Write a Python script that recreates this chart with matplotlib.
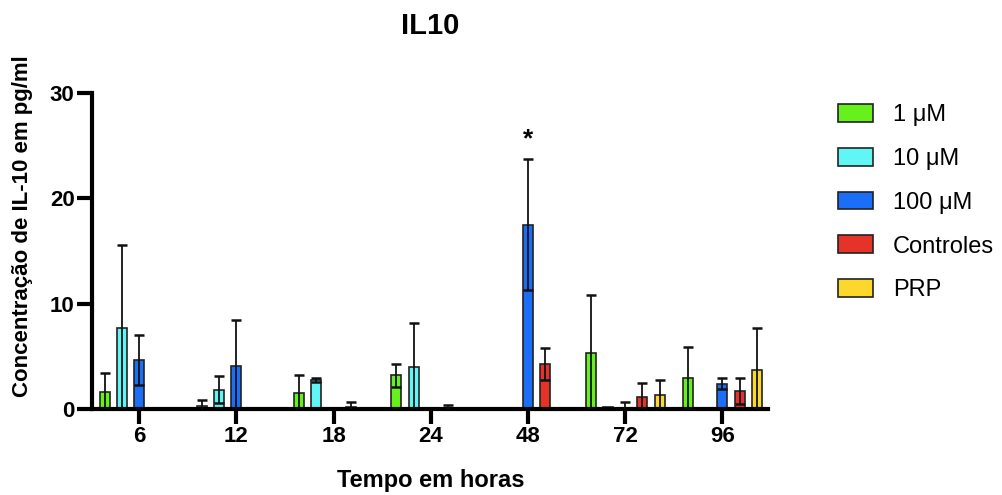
import numpy as np
import matplotlib
matplotlib.use('Agg')
import matplotlib.pyplot as plt

plt.rcParams['font.family'] = ['Liberation Sans', 'DejaVu Sans']

# tempo em horas
groups = ['6', '12', '18', '24', '48', '72', '96']
series = ['1 μM', '10 μM', '100 μM', 'Controles', 'PRP']
colors = ['#66f01c', '#60f6f6', '#1b6ef6', '#e6332a', '#fcd72c']

nan = np.nan
um1 = [1.6, 0.3, 1.55, 3.2, nan, 5.3, 2.9]
um1_err = [1.8, 0.55, 1.7, 1.1, nan, 5.5, 3.0]
um10 = [7.7, 1.85, 2.75, 4.0, nan, 0.15, nan]
um10_err = [7.9, 1.25, 0.2, 4.2, nan, nan, nan]
um100 = [4.65, 4.1, nan, nan, 17.5, 0.1, 2.4]
um100_err = [2.35, 4.35, nan, nan, 6.2, 0.6, 0.5]
ctrl = [nan, nan, 0.2, 0.05, 4.25, 1.15, 1.7]
ctrl_err = [nan, nan, 0.5, 0.33, 1.5, 1.35, 1.25]
prp = [nan, nan, nan, nan, nan, 1.3, 3.75]
prp_err = [nan, nan, nan, nan, nan, 1.5, 3.9]

values = [um1, um10, um100, ctrl, prp]
errors = [um1_err, um10_err, um100_err, ctrl_err, prp_err]

fig = plt.figure(figsize=(10.03, 4.95), dpi=100)
ax = fig.add_axes([92/1003, 86/495, 676/1003, 316/495])

x = np.arange(len(groups))
step = 0.178
width = 0.103
for i in range(len(series)):
    xs = x + (i - 2) * step
    ax.bar(xs, values[i], width=width, color=colors[i], edgecolor='#222222',
           linewidth=1.2, label=series[i], zorder=2)
    ax.errorbar(xs, values[i], yerr=errors[i], fmt='none', ecolor='#111111',
                elinewidth=1.3, capsize=3.5, capthick=1.8, zorder=3)

# significancia
ax.text(4, 24.9, '*', ha='center', va='baseline', fontsize=19, fontweight='bold')

ax.set_xlim(-0.487, 6.47)
ax.set_ylim(0, 30)
ax.set_yticks([0, 10, 20, 30])
ax.set_xticks(x)
ax.set_xticklabels(groups)
for s in ['top', 'right']:
    ax.spines[s].set_visible(False)
for s in ['left', 'bottom']:
    ax.spines[s].set_linewidth(3)
ax.tick_params(axis='both', width=3, length=10.5, labelsize=16, pad=2)
for lbl in ax.get_xticklabels() + ax.get_yticklabels():
    lbl.set_fontweight('bold')

fig.text(430/1003, 1 - 26/495, 'IL10', ha='center', va='center', fontsize=21, fontweight='bold')
fig.text(431/1003, 1 - 487/495, 'Tempo em horas', ha='center', va='baseline', fontsize=17, fontweight='bold')
fig.text(23/1003, 1 - 226.5/495, 'Concentração de IL-10 em pg/ml', rotation=90,
         ha='center', va='center', fontsize=16, fontweight='bold')

ax.legend(loc='upper left', bbox_to_anchor=(838/1003, 1 - 104/495), bbox_transform=fig.transFigure,
          frameon=False, borderpad=0, borderaxespad=0, handlelength=1.48, handleheight=0.78,
          handletextpad=0.85, labelspacing=0.92, fontsize=17)

fig.savefig('out.png', dpi=100)
